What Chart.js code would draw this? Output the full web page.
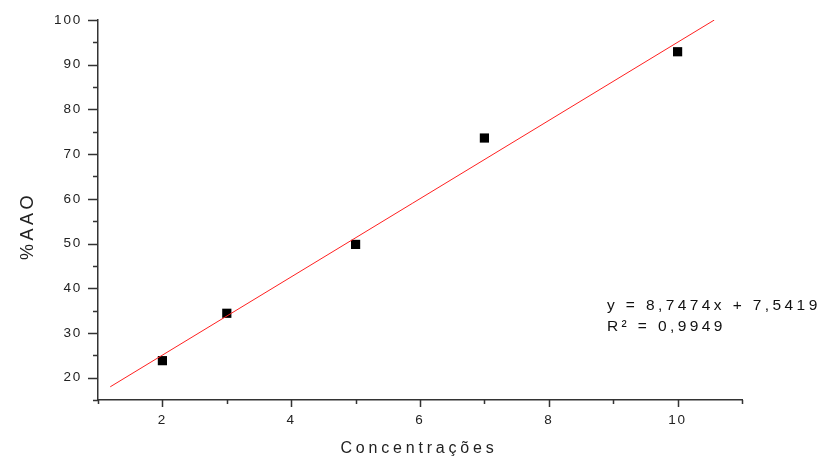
<!DOCTYPE html>
<html>
<head>
<meta charset="utf-8">
<script src="https://cdn.jsdelivr.net/npm/chart.js@4"></script>
<style>
  html, body { margin: 0; padding: 0; background: #fff; }
  canvas { display: block; }
</style>
</head>
<body>
<canvas id="chart" width="827" height="459"></canvas>
<script>
// measured points
const concX = [2, 3, 5, 7, 10];
const aaoY = [23.8, 34.4, 49.8, 73.6, 92.9];

// linear fit, endpoints
const fitX = [1.19, 10.57];
const fitY = [17.95, 100.0];

const xTicks = [2, 4, 6, 8, 10];
const xMinor = [1, 3, 5, 7, 9, 11];
const yTicks = [20, 30, 40, 50, 60, 70, 80, 90, 100];
const yMinor = [15, 25, 35, 45, 55, 65, 75, 85, 95];

const eqLines = ["y = 8,7474x + 7,5419", "R\u00b2 = 0,9949"];

const FONT = "'Liberation Sans', Arial, sans-serif";
const AXIS_COLOR = "#333";

const axisTicks = {
    id: "axisTicks",
    beforeDraw(chart) {
        chart.ctx.letterSpacing = "1.8px";
    },
    afterDraw(chart) {
        const ctx = chart.ctx;
        const xs = chart.scales.x, ys = chart.scales.y;
        const area = chart.chartArea;
        ctx.save();
        ctx.strokeStyle = AXIS_COLOR;
        ctx.lineWidth = 1.5;
        ctx.beginPath();
        xTicks.forEach(v => {
            const px = Math.round(xs.getPixelForValue(v)) + 0.5;
            ctx.moveTo(px, area.bottom); ctx.lineTo(px, area.bottom + 7);
        });
        xMinor.forEach(v => {
            const px = Math.round(xs.getPixelForValue(v)) + 0.5;
            ctx.moveTo(px, area.bottom); ctx.lineTo(px, area.bottom + 4);
        });
        yTicks.forEach(v => {
            const py = Math.round(ys.getPixelForValue(v)) + 0.5;
            ctx.moveTo(area.left, py); ctx.lineTo(area.left - 10, py);
        });
        yMinor.forEach(v => {
            const py = Math.round(ys.getPixelForValue(v)) + 0.5;
            ctx.moveTo(area.left, py); ctx.lineTo(area.left - 5, py);
        });
        ctx.stroke();

        // axis titles
        ctx.fillStyle = "#222";
        ctx.letterSpacing = "3.8px";
        ctx.font = "16px " + FONT;
        ctx.textAlign = "center";
        ctx.textBaseline = "alphabetic";
        ctx.fillText("Concentrações", (area.left + area.right) / 2 - 1, 453);

        ctx.save();
        ctx.translate(33, 226);
        ctx.rotate(-Math.PI / 2);
        ctx.letterSpacing = "3.5px";
        ctx.font = "18px " + FONT;
        ctx.fillText("%AAO", 0, 0);
        ctx.restore();

        // regression equation
        ctx.fillStyle = "#111";
        ctx.letterSpacing = "3.4px";
        ctx.font = "15.5px " + FONT;
        ctx.textAlign = "left";
        ctx.fillText(eqLines[0], 607, 309.5);
        ctx.fillText(eqLines[1], 607, 330.5);
        ctx.restore();
    }
};

new Chart(document.getElementById("chart"), {
    type: "scatter",
    data: {
        datasets: [
            {
                type: "line",
                label: "Ajuste",
                data: fitX.map((x, i) => ({ x: x, y: fitY[i] })),
                borderColor: "#ff2020",
                borderWidth: 1,
                pointRadius: 0,
                fill: false,
                order: 0
            },
            {
                label: "%AAO",
                data: concX.map((x, i) => ({ x: x, y: aaoY[i] })),
                pointStyle: "rect",
                pointRadius: 6.5,
                backgroundColor: "#000",
                borderColor: "#000",
                borderWidth: 0,
                order: 1
            }
        ]
    },
    options: {
        responsive: false,
        animation: false,
        devicePixelRatio: 1,
        layout: { padding: { left: 0, top: 20, right: 85, bottom: 0 } },
        plugins: {
            legend: { display: false },
            tooltip: { enabled: false }
        },
        scales: {
            x: {
                type: "linear",
                min: 1,
                max: 11,
                grid: { display: false, drawTicks: false },
                border: { display: true, color: AXIS_COLOR, width: 1.5 },
                ticks: {
                    color: "#222",
                    padding: 12,
                    font: { family: FONT, size: 13.5 }
                },
                afterBuildTicks: s => { s.ticks = xTicks.map(v => ({ value: v })); },
                afterFit: s => { s.height = 59; s.paddingLeft = 0; s.paddingRight = 0; }
            },
            y: {
                type: "linear",
                min: 15,
                max: 100,
                grid: { display: false, drawTicks: false },
                border: { display: true, color: AXIS_COLOR, width: 1.5 },
                ticks: {
                    color: "#222",
                    padding: 16,
                    font: { family: FONT, size: 13.5 }
                },
                afterBuildTicks: s => { s.ticks = yTicks.map(v => ({ value: v })); },
                afterFit: s => { s.width = 98; s.paddingTop = 0; s.paddingBottom = 0; }
            }
        }
    },
    plugins: [axisTicks]
});
</script>
</body>
</html>
